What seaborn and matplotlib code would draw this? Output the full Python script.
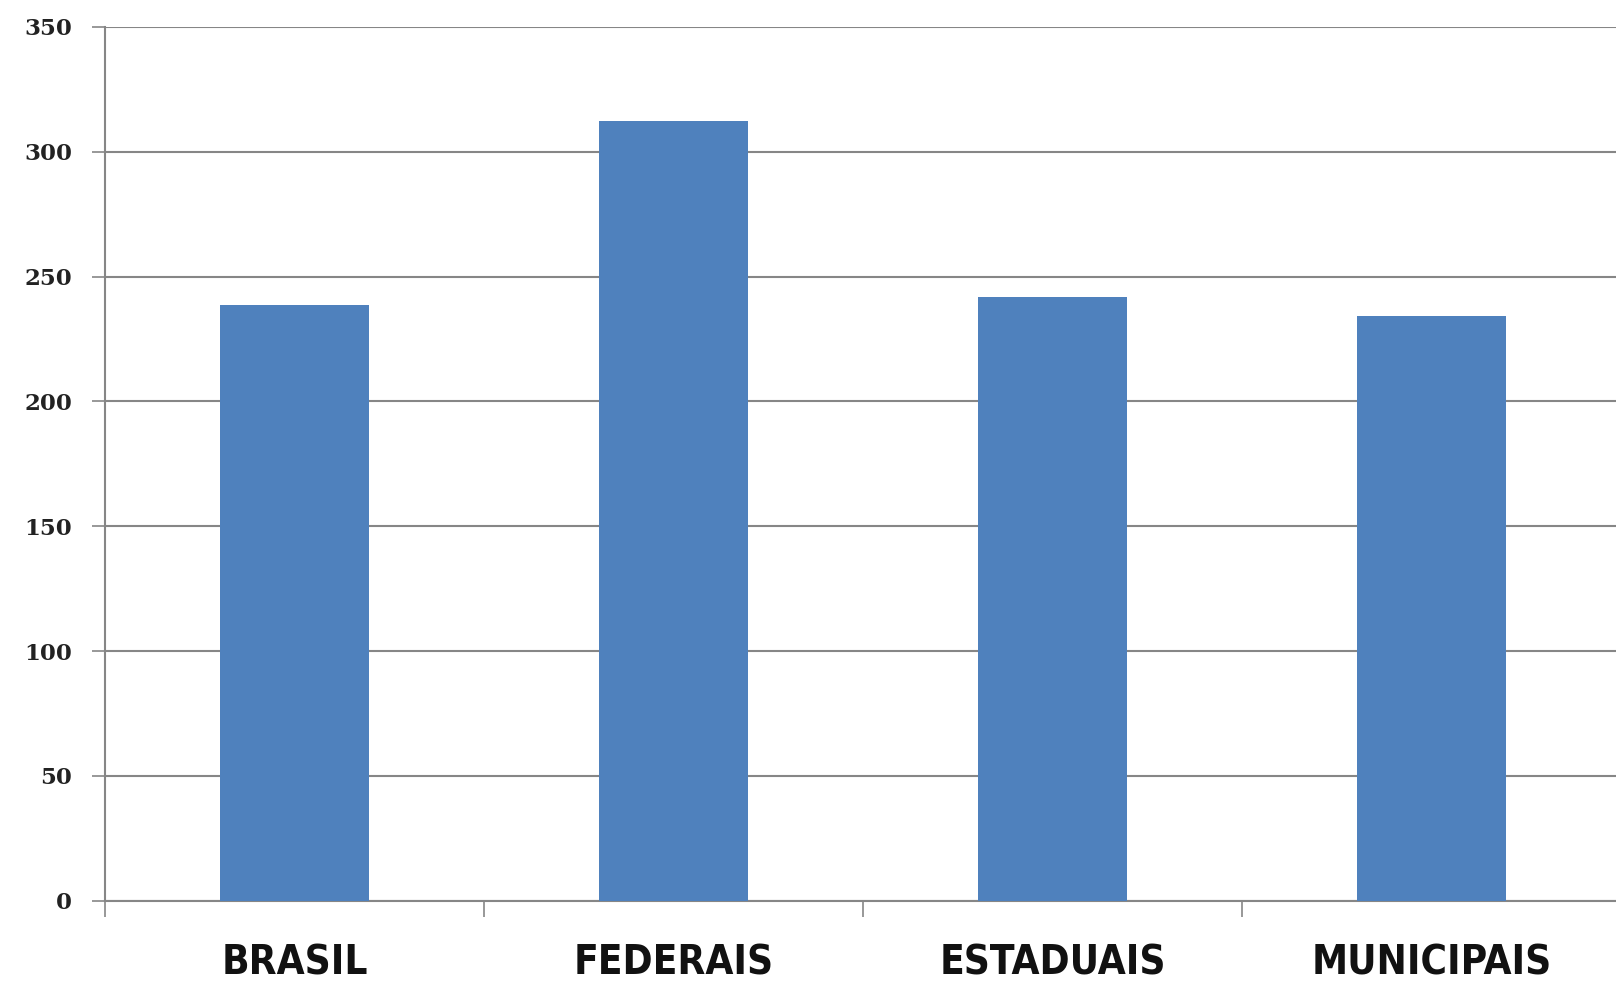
import matplotlib
matplotlib.use("Agg")
import matplotlib.pyplot as plt
import seaborn as sns
import pandas as pd
from matplotlib.ticker import FixedLocator

categories = ["BRASIL", "FEDERAIS", "ESTADUAIS", "MUNICIPAIS"]
values = [238.5, 312.4, 241.9, 234.3]
yticks = [0, 50, 100, 150, 200, 250, 300, 350]

df = pd.DataFrame({"cat": categories, "val": values})

sns.set_style("white")
fig = plt.figure(figsize=(16.16, 9.82), dpi=100)
ax = fig.add_axes([105/1616, 1-900.8/982, 1516/1616, (900.8-26.8)/982])

sns.barplot(data=df, x="cat", y="val", color="#4F81BD", width=0.394,
            saturation=1, linewidth=0, ax=ax, zorder=3)

ax.set_xlim(-0.5, 3.5)
ax.set_ylim(0, 350)
ax.set_yticks(yticks)
ax.set_yticklabels([str(v) for v in yticks], family=["DejaVu Serif"],
                   fontweight="bold", fontsize=16.5, color="#222222")
ax.yaxis.grid(True, color="#868686", linewidth=1.5, zorder=0)
ax.set_axisbelow(True)
ax.tick_params(axis="y", left=True, length=9.5, width=1.2, color="#868686", pad=14)

ax.set_xticks(range(len(categories)))
ax.set_xticklabels(categories, family=["DejaVu Sans"], fontstretch="condensed",
                   fontweight="bold", fontsize=29, color="#111111")
ax.tick_params(axis="x", which="major", bottom=False, length=0, pad=31)
ax.xaxis.set_minor_locator(FixedLocator([-0.5, 0.5, 1.5, 2.5]))
ax.tick_params(axis="x", which="minor", bottom=True, length=11.5, width=1.2,
               color="#868686")

ax.set_xlabel("")
ax.set_ylabel("")
for s in ["top", "right"]:
    ax.spines[s].set_visible(False)
for s in ["left", "bottom"]:
    ax.spines[s].set_color("#868686")
    ax.spines[s].set_linewidth(1.5)

fig.savefig("out.png", dpi=100)
